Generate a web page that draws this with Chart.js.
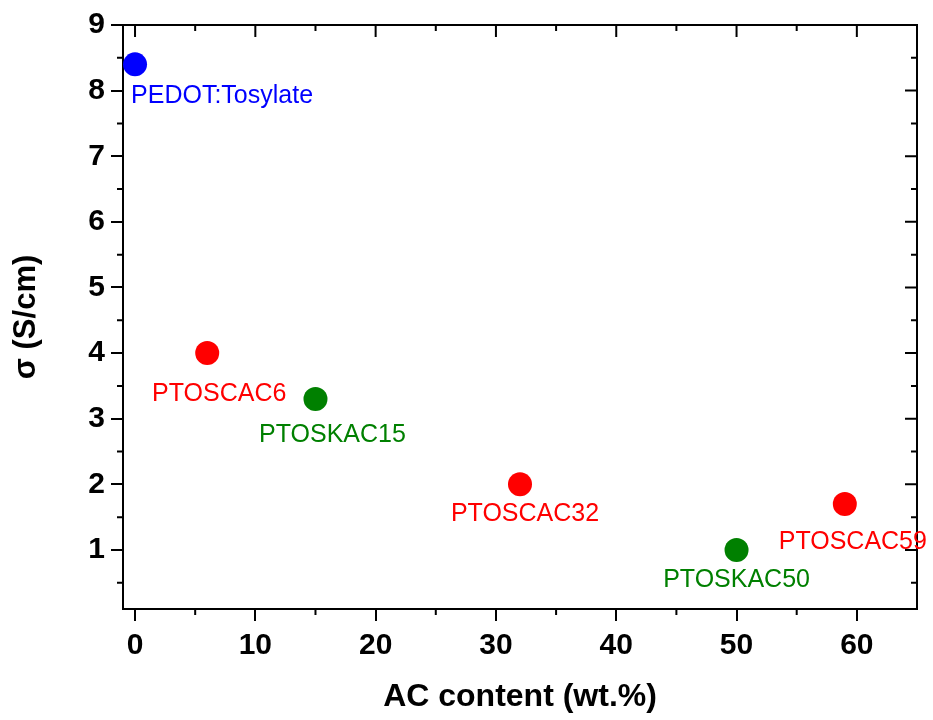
<!DOCTYPE html>
<html>
<head>
<meta charset="utf-8">
<script src="https://cdn.jsdelivr.net/npm/chart.js@4.4.0/dist/chart.umd.min.js"></script>
<style>
  html, body { margin: 0; padding: 0; background: #fff; }
  #wrap { width: 933px; height: 720px; }
</style>
</head>
<body>
<div id="wrap"><canvas id="grafico" width="933" height="720"></canvas></div>
<script>
// dados
var amostras = ['PEDOT:Tosylate', 'PTOSCAC6', 'PTOSKAC15', 'PTOSCAC32', 'PTOSKAC50', 'PTOSCAC59'];
var teorAC = [0, 6, 15, 32, 50, 59];
var sigma = [8.4, 4.0, 3.3, 2.0, 1.0, 1.7];
var cores = ['#0000ff', '#ff0000', '#008000', '#ff0000', '#008000', '#ff0000'];

var xTicks = [0, 10, 20, 30, 40, 50, 60];
var xMinor = [5, 15, 25, 35, 45, 55];
var yTicks = [1, 2, 3, 4, 5, 6, 7, 8, 9];
var yMinor = [0.5, 1.5, 2.5, 3.5, 4.5, 5.5, 6.5, 7.5, 8.5];

// deslocamento dos rotulos em px (centro do texto em relacao ao ponto)
var deslocRotulo = [[87, 32], [12, 41], [17, 36], [5, 30], [0, 30], [8, 38]];

var fonte = '"Liberation Sans", Arial, sans-serif';

var pontos = [];
for (var i = 0; i < teorAC.length; i++) {
    pontos.push({ x: teorAC[i], y: sigma[i] });
}

// moldura superior/direita, ticks menores e rotulos das amostras
const pluginMoldura = {
    id: 'moldura',
    afterDraw(chart) {
        const ctx = chart.ctx;
        const a = chart.chartArea;
        const sx = chart.scales.x;
        const sy = chart.scales.y;
        const maior = 12, menor = 6;

        ctx.save();
        ctx.strokeStyle = '#000';
        ctx.lineWidth = 2;
        ctx.beginPath();
        ctx.moveTo(a.left - 1, a.top);
        ctx.lineTo(a.right, a.top);
        ctx.lineTo(a.right, a.bottom + 1);
        ctx.stroke();

        ctx.beginPath();
        xTicks.forEach(function (v) {
            var px = sx.getPixelForValue(v);
            ctx.moveTo(px, a.top); ctx.lineTo(px, a.top + maior);
        });
        xMinor.forEach(function (v) {
            var px = sx.getPixelForValue(v);
            ctx.moveTo(px, a.top); ctx.lineTo(px, a.top + menor);
            ctx.moveTo(px, a.bottom); ctx.lineTo(px, a.bottom + menor);
        });
        yTicks.forEach(function (v) {
            var py = sy.getPixelForValue(v);
            ctx.moveTo(a.right, py); ctx.lineTo(a.right - maior, py);
        });
        yMinor.forEach(function (v) {
            var py = sy.getPixelForValue(v);
            ctx.moveTo(a.right, py); ctx.lineTo(a.right - menor, py);
            ctx.moveTo(a.left, py); ctx.lineTo(a.left - menor, py);
        });
        ctx.stroke();

        ctx.font = '25px ' + fonte;
        ctx.textAlign = 'center';
        ctx.textBaseline = 'middle';
        for (var i = 0; i < amostras.length; i++) {
            var px = sx.getPixelForValue(teorAC[i]) + deslocRotulo[i][0];
            var py = sy.getPixelForValue(sigma[i]) + deslocRotulo[i][1];
            ctx.fillStyle = cores[i];
            ctx.fillText(amostras[i], px, py);
        }
        ctx.restore();
    }
};

const ctx1 = document.getElementById('grafico');

new Chart(ctx1, {
    type: 'scatter',
    data: {
        datasets: [{
            label: 'sigma',
            data: pontos,
            backgroundColor: cores,
            borderWidth: 0,
            pointRadius: 12,
            pointHoverRadius: 12
        }]
    },
    options: {
        responsive: false,
        animation: false,
        events: [],
        layout: { padding: { top: 25, right: 16, left: 0, bottom: 0 } },
        plugins: {
            legend: { display: false },
            tooltip: { enabled: false }
        },
        scales: {
            x: {
                type: 'linear',
                min: -1,
                max: 65,
                afterBuildTicks: function (s) { s.ticks = xTicks.map(function (v) { return { value: v }; }); },
                afterFit: function (s) { s.height = 111; },
                grid: { display: true, drawOnChartArea: false, drawTicks: true, tickLength: 12, color: '#000', lineWidth: 2 },
                border: { display: true, color: '#000', width: 2 },
                ticks: { color: '#000', padding: 7, maxRotation: 0, font: { family: fonte, size: 30, weight: 'bold' } },
                title: {
                    display: true,
                    text: 'AC content (wt.%)',
                    color: '#000',
                    padding: { top: 0, bottom: 4 },
                    font: { family: fonte, size: 32, weight: 'bold' }
                }
            },
            y: {
                type: 'linear',
                min: 0.1,
                max: 9,
                afterBuildTicks: function (s) { s.ticks = yTicks.map(function (v) { return { value: v }; }); },
                afterFit: function (s) { s.width = 123; },
                grid: { display: true, drawOnChartArea: false, drawTicks: true, tickLength: 12, color: '#000', lineWidth: 2 },
                border: { display: true, color: '#000', width: 2 },
                ticks: { color: '#000', padding: 6, font: { family: fonte, size: 30, weight: 'bold' } },
                title: {
                    display: true,
                    text: 'σ (S/cm)',
                    color: '#000',
                    padding: { top: 8, bottom: 0 },
                    font: { family: fonte, size: 31, weight: 'bold' }
                }
            }
        }
    },
    plugins: [pluginMoldura]
});
</script>
</body>
</html>
